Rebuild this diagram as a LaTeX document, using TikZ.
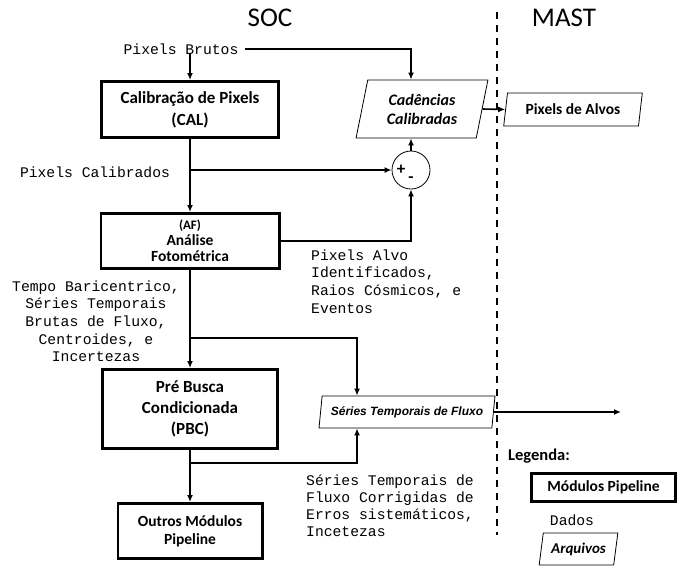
\documentclass[tikz,border=0pt]{standalone}
\usepackage{fontspec}
\usetikzlibrary{shapes.geometric,arrows.meta}
\newfontfamily\carl{Carlito}
\newfontfamily\monofnt{Liberation Mono}
\newfontfamily\arsans{Liberation Sans}
\begin{document}
\begin{tikzpicture}[x=1pt,y=-1pt,
  box/.style={draw, line width=2.6pt, align=center, inner sep=0,
    font=\carl\bfseries\fontsize{17}{22}\selectfont},
  para/.style={draw, line width=0.8pt, trapezium, trapezium left angle=76,
    trapezium right angle=104, trapezium stretches=true, align=center, inner sep=0,
    font=\carl\bfseries\itshape\fontsize{16}{19}\selectfont},
  mtxt/.style={font=\monofnt\fontsize{14.7}{17.6}\selectfont, inner sep=0},
  arr/.style={line width=1.6pt, -{Latex[length=7pt,width=6pt]}},
  dashline/.style={line width=2.2pt, dash pattern=on 7pt off 6pt}]
\useasboundingbox (0,0) rectangle (678,566);

% titles
\node[font=\carl\fontsize{27}{30}\selectfont, anchor=base, inner sep=0] (soc) at (270,26) {SOC};
\node[font=\carl\fontsize{27}{30}\selectfont, anchor=base, inner sep=0] (mast) at (564,26) {MAST};
\coordinate (dtop) at (497,12);
\coordinate (dbot) at (497,535);
\draw[dashline] (dtop) -- (dbot);

% nodes
\node[mtxt, anchor=base] (brutos) at (181,54) {Pixels Brutos};
\node[box, minimum width=177.4pt, minimum height=56.4pt] (cal) at (190,109.5) {Calibração de Pixels\\(CAL)};
\node[para, minimum width=132pt, minimum height=58pt] (cad) at (422,109) {Cadências\\Calibradas};
\node[para, minimum width=140pt, minimum height=33pt,
  font=\carl\bfseries\fontsize{15.5}{19}\selectfont] (pda) at (573,109.5) {Pixels de Alvos};
\node[circle, draw, line width=0.8pt, minimum size=38pt, inner sep=0] (circ) at (411,170) {};
\node[font=\carl\bfseries\fontsize{17}{17}\selectfont, inner sep=0] (plus) at (401,170) {+};
\node[font=\carl\bfseries\fontsize{17}{17}\selectfont, inner sep=0] (minus) at (411,180) {-};
\node[mtxt, anchor=base] (calib) at (95,177) {Pixels Calibrados};
\node[box, minimum width=178.4pt, minimum height=55.4pt,
  font=\carl\bfseries\fontsize{15.5}{16}\selectfont] (af) at (190,241)
  {{\fontsize{13}{16}\selectfont(AF)}\\Análise\\Fotométrica};
\node[mtxt, align=left, anchor=north west] (alvo) at (311,249.5)
  {Pixels Alvo\\Identificados,\\Raios Cósmicos, e\\Eventos};
\node[mtxt, align=center, anchor=north] (tempo) at (96,280.5)
  {Tempo Baricentrico,\\Séries Temporais\\Brutas de Fluxo,\\Centroides, e\\Incertezas};
\node[box, minimum width=175.4pt, minimum height=79.4pt,
  font=\carl\bfseries\fontsize{17}{21}\selectfont] (pbc) at (190,409) {Pré Busca\\Condicionada\\(PBC)};
\node[para, minimum width=176pt, minimum height=32pt,
  font=\arsans\bfseries\itshape\fontsize{12}{14}\selectfont] (series) at (407,412) {Séries Temporais de Fluxo};
\node[box, minimum width=144.4pt, minimum height=55.4pt,
  font=\carl\bfseries\fontsize{15.5}{18}\selectfont] (outros) at (190,531) {Outros Módulos\\Pipeline};
\node[mtxt, align=left, anchor=north west, font=\monofnt\fontsize{14.7}{17}\selectfont] (corr) at (306,474.5)
  {Séries Temporais de\\Fluxo Corrigidas de\\Erros sistemáticos,\\Incetezas};

% legend
\node[font=\carl\bfseries\fontsize{16.5}{20}\selectfont, anchor=base west, inner sep=0] (leg) at (508,460) {Legenda:};
\node[box, minimum width=144.4pt, minimum height=28.4pt,
  font=\carl\bfseries\fontsize{15.5}{18}\selectfont] (mod) at (603.5,487.5) {Módulos Pipeline};
\node[mtxt, anchor=base] (dados) at (572,525) {Dados};
\node[para, minimum width=79pt, minimum height=32pt, font=\carl\bfseries\itshape\fontsize{15}{19}\selectfont] (arq) at (578.5,549) {Arquivos};

% connectors
\draw[arr] (brutos.south -| cal.north) -- (cal.north);
\draw[arr] ([xshift=6pt]brutos.east) -| (circ.north |- cad.north);
\draw[arr] (cal.south) -- (af.north);
\draw[arr] (cal.south |- circ.west) -- (circ.west);
\draw[arr] (af.east) -| (circ.south);
\draw[arr] (circ.north) -- (circ.north |- cad.south);
\draw[arr] (cad.east) -- (pda.west);
\draw[arr] (af.south) -- (pbc.north);
\coordinate (b1) at (190,338);
\draw[arr] (b1) -| ([xshift=-50pt]series.north);
\coordinate (outend) at (621,412);
\draw[arr] (series.east) -- (outend);
\draw[arr] (pbc.south) -- (outros.north);
\coordinate (b2) at (190,463);
\draw[arr] (b2) -| ([xshift=-50pt]series.south);
\end{tikzpicture}
\end{document}
